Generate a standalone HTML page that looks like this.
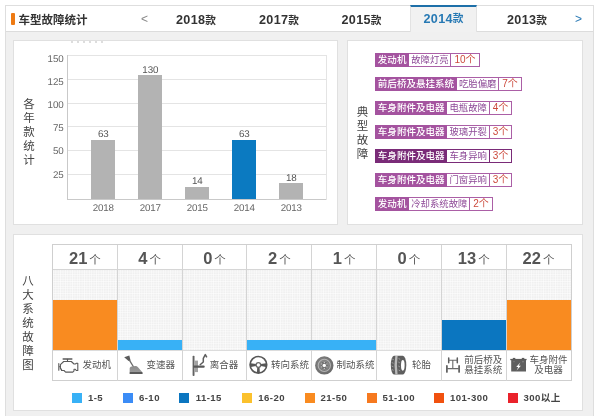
<!DOCTYPE html>
<html lang="zh-CN">
<head>
<meta charset="utf-8">
<title>车型故障统计</title>
<style>
html,body{margin:0;padding:0;}
body{width:600px;height:416px;overflow:hidden;background:#fff;position:relative;font-family:"Liberation Sans", "Noto Sans CJK SC", sans-serif;color:#333;}
div,span{box-sizing:border-box;}
.abs{position:absolute;}
.wrap{position:absolute;left:4.5px;top:5px;width:589.5px;height:430px;background:#f0f0f0;border:1px solid #dedede;}
.hdr{position:absolute;left:5.5px;top:6px;width:587.5px;height:26.3px;background:#fff;border-bottom:1px solid #dcdcdc;}
.obar{position:absolute;left:11px;top:13px;width:3.5px;height:12px;background:#ee7a12;border-radius:1px;}
.title{position:absolute;left:18.5px;top:10.5px;height:18px;line-height:18px;font-size:11.5px;font-weight:bold;color:#333;white-space:nowrap;letter-spacing:0;}
.tab i{font-style:normal;font-size:10.7px;letter-spacing:0;position:relative;top:-.4px;}
.tab{letter-spacing:.3px;position:absolute;top:8.1px;height:25px;width:83px;text-align:center;line-height:25px;font-size:12.6px;font-weight:bold;color:#333;white-space:nowrap;}
.tab.on{top:4.7px;height:27.6px;line-height:25.8px;width:67.5px;background:#f1f1f1;border-top:2.6px solid #1d6fa8;border-left:1px solid #e2e2e2;border-right:1px solid #e2e2e2;color:#2779b4;}
.arr{position:absolute;top:10px;height:18px;line-height:18px;font-size:12px;color:#888;}
.panel{position:absolute;background:#fff;border:1px solid #e0e0e0;}
.vt{position:absolute;width:14px;text-align:center;font-size:11.5px;line-height:14px;color:#444;}
.gl{position:absolute;left:67.5px;width:258.5px;height:1px;background:#e4e4e4;}
.yl{position:absolute;left:29.5px;width:34px;text-align:right;font-size:9.8px;letter-spacing:-.15px;text-rendering:geometricPrecision;margin-top:1.7px;line-height:12px;color:#666;}
.bar{position:absolute;width:23.7px;background:#b3b3b3;}
.bv{position:absolute;width:40px;text-align:center;font-size:9.8px;letter-spacing:-.15px;text-rendering:geometricPrecision;margin-top:1.7px;line-height:12px;color:#555;}
.xl{position:absolute;width:40px;text-align:center;font-size:9.8px;letter-spacing:-.15px;text-rendering:geometricPrecision;margin-top:1.7px;line-height:12px;color:#666;top:201px;}
.tag{position:absolute;left:375.3px;height:13.5px;display:flex;white-space:nowrap;font-size:9.4px;line-height:11.5px;border:1px solid #ab5fa6;background:#fff;}
.tag span{display:block;height:11.5px;}
.tag .s{background:#a4539f;color:#fff;padding:0 2.5px;margin:-1px 0 -1px -1px;height:13.5px;line-height:13.5px;font-size:9.55px;font-weight:500;}
.tag .n{color:#8e4a97;padding:0 1.6px 0 2.3px;border-right:1px solid #ab5fa6;}
.tag .c{color:#cc4a3c;padding:0 3.1px;font-size:10px;}
.tag.dk{border-color:#7a2b78;}
.tag.dk .s{background:#7a2b78;}
.tag.dk .n{border-right-color:#7a2b78;}
.tbl{position:absolute;left:52.2px;top:244.3px;width:519.6px;height:136.6px;border:1px solid #cfcfcf;background:#fff;}
.dots{position:absolute;left:53px;top:269.5px;width:517.8px;height:80.5px;background-color:#f0f0f0;
 background-image:linear-gradient(90deg,rgba(255,255,255,.55) 1px,transparent 1px),linear-gradient(0deg,rgba(255,255,255,.55) 1px,transparent 1px);background-size:2.4px 2.4px;}
.hl{position:absolute;left:53px;width:517.5px;height:1px;background:#d6d6d6;}
.cl{position:absolute;top:245px;width:1px;height:135.5px;background:#d4d4d4;}
.cnt{position:absolute;top:247px;width:64.8px;height:22px;line-height:22px;text-align:center;color:#555;white-space:nowrap;}
.cnt b{font-size:16.5px;font-weight:bold;vertical-align:baseline;}
.cnt i{font-style:normal;font-size:11.5px;margin-left:2px;}
.sb{position:absolute;}
.lab{position:absolute;font-size:9.5px;line-height:10px;color:#555;white-space:nowrap;text-align:center;}
.lsq{position:absolute;top:392.5px;width:10px;height:10px;}
.ltx{position:absolute;top:391.5px;height:12px;line-height:12px;font-size:9.6px;font-weight:bold;color:#444;white-space:nowrap;letter-spacing:.42px;}
svg{position:absolute;overflow:visible;}
</style>
</head>
<body>
<div class="wrap"></div>
<div class="hdr"></div>
<div class="obar"></div>
<div class="title">车型故障统计</div>
<div class="arr" style="left:141px;">&lt;</div>

<div class="tab" style="left:154.50px;">2018<i>款</i></div>
<div class="tab" style="left:237.50px;">2017<i>款</i></div>
<div class="tab" style="left:320.00px;">2015<i>款</i></div>
<div class="tab on" style="left:409.75px;">2014<i>款</i></div>
<div class="tab" style="left:485.50px;">2013<i>款</i></div>
<div class="arr" style="left:575px;color:#2a7ab5;">&gt;</div>
<div class="panel" style="left:12.5px;top:39.5px;width:325px;height:185.5px;"></div>
<div class="abs" style="left:71px;top:40.5px;width:36px;height:2px;background:repeating-linear-gradient(90deg,#cfcfcf 0 2px,transparent 2px 6px);opacity:.7"></div>
<div class="vt" style="left:22px;top:97.0px;">各</div>
<div class="vt" style="left:22px;top:111.0px;">年</div>
<div class="vt" style="left:22px;top:125.0px;">款</div>
<div class="vt" style="left:22px;top:139.0px;">统</div>
<div class="vt" style="left:22px;top:153.0px;">计</div>
<div class="gl" style="top:198.70px;background:#c9c9c9;"></div>
<div class="gl" style="top:174.00px;background:#e4e4e4;"></div>
<div class="yl" style="top:167.85px;">25</div>
<div class="gl" style="top:150.20px;background:#e4e4e4;"></div>
<div class="yl" style="top:144.70px;">50</div>
<div class="gl" style="top:126.40px;background:#e4e4e4;"></div>
<div class="yl" style="top:121.55px;">75</div>
<div class="gl" style="top:102.60px;background:#e4e4e4;"></div>
<div class="yl" style="top:98.40px;">100</div>
<div class="gl" style="top:78.80px;background:#e4e4e4;"></div>
<div class="yl" style="top:75.25px;">125</div>
<div class="gl" style="top:55.00px;background:#e4e4e4;"></div>
<div class="yl" style="top:52.10px;">150</div>
<div class="abs" style="left:67px;top:55.00px;width:1px;height:144.70px;background:#c9c9c9;"></div>
<div class="abs" style="left:325.5px;top:55.00px;width:1px;height:144.70px;background:#e4e4e4;"></div>
<div class="bar" style="left:91.30px;top:139.50px;height:59.69px;background:#b3b3b3;"></div>
<div class="bv" style="left:83.30px;top:127.50px;">63</div>
<div class="xl" style="left:83.30px;">2018</div>
<div class="bar" style="left:138.30px;top:74.85px;height:124.35px;background:#b3b3b3;"></div>
<div class="bv" style="left:130.30px;top:62.85px;">130</div>
<div class="xl" style="left:130.30px;">2017</div>
<div class="bar" style="left:185.30px;top:186.79px;height:12.41px;background:#b3b3b3;"></div>
<div class="bv" style="left:177.30px;top:174.79px;">14</div>
<div class="xl" style="left:177.30px;">2015</div>
<div class="bar" style="left:232.30px;top:139.50px;height:59.69px;background:#0b7ac1;"></div>
<div class="bv" style="left:224.30px;top:127.50px;">63</div>
<div class="xl" style="left:224.30px;">2014</div>
<div class="bar" style="left:279.30px;top:182.93px;height:16.27px;background:#b3b3b3;"></div>
<div class="bv" style="left:271.30px;top:170.93px;">18</div>
<div class="xl" style="left:271.30px;">2013</div>
<div class="panel" style="left:347px;top:39.5px;width:235.9px;height:185.3px;"></div>
<div class="vt" style="left:355.5px;top:104.6px;">典</div>
<div class="vt" style="left:355.5px;top:118.6px;">型</div>
<div class="vt" style="left:355.5px;top:132.6px;">故</div>
<div class="vt" style="left:355.5px;top:146.6px;">障</div>
<div class="tag" style="top:53.30px;"><span class="s">发动机</span><span class="n">故障灯亮</span><span class="c">10个</span></div>
<div class="tag" style="top:77.30px;"><span class="s">前后桥及悬挂系统</span><span class="n">吃胎偏磨</span><span class="c">7个</span></div>
<div class="tag" style="top:101.30px;"><span class="s">车身附件及电器</span><span class="n">电瓶故障</span><span class="c">4个</span></div>
<div class="tag" style="top:125.30px;"><span class="s">车身附件及电器</span><span class="n">玻璃开裂</span><span class="c">3个</span></div>
<div class="tag dk" style="top:149.30px;"><span class="s">车身附件及电器</span><span class="n">车身异响</span><span class="c">3个</span></div>
<div class="tag" style="top:173.30px;"><span class="s">车身附件及电器</span><span class="n">门窗异响</span><span class="c">3个</span></div>
<div class="tag" style="top:197.30px;"><span class="s">发动机</span><span class="n">冷却系统故障</span><span class="c">2个</span></div>
<div class="panel" style="left:12.5px;top:234.2px;width:570.6px;height:176.5px;"></div>
<div class="vt" style="left:21px;top:273.5px;">八</div>
<div class="vt" style="left:21px;top:287.5px;">大</div>
<div class="vt" style="left:21px;top:301.5px;">系</div>
<div class="vt" style="left:21px;top:315.5px;">统</div>
<div class="vt" style="left:21px;top:329.5px;">故</div>
<div class="vt" style="left:21px;top:343.5px;">障</div>
<div class="vt" style="left:21px;top:357.5px;">图</div>
<div class="tbl"></div>
<div class="dots"></div>
<div class="hl" style="top:269px;"></div>
<div class="hl" style="top:350px;background:#dcdcdc;"></div>
<div class="cl" style="left:116.80px;"></div>
<div class="cl" style="left:181.60px;"></div>
<div class="cl" style="left:246.40px;"></div>
<div class="cl" style="left:311.20px;"></div>
<div class="cl" style="left:376.00px;"></div>
<div class="cl" style="left:440.80px;"></div>
<div class="cl" style="left:505.60px;"></div>
<div class="cnt" style="left:52.50px;"><b>21</b><i>个</i></div>
<div class="sb" style="left:53.00px;top:300.00px;width:64.30px;height:50.20px;background:#f98b20;"></div>
<div class="cnt" style="left:117.30px;"><b>4</b><i>个</i></div>
<div class="sb" style="left:117.80px;top:340.00px;width:64.30px;height:10.20px;background:#38b1f6;"></div>
<div class="cnt" style="left:182.10px;"><b>0</b><i>个</i></div>
<div class="cnt" style="left:246.90px;"><b>2</b><i>个</i></div>
<div class="sb" style="left:247.40px;top:340.00px;width:64.30px;height:10.20px;background:#38b1f6;"></div>
<div class="cnt" style="left:311.70px;"><b>1</b><i>个</i></div>
<div class="sb" style="left:312.20px;top:340.00px;width:64.30px;height:10.20px;background:#38b1f6;"></div>
<div class="cnt" style="left:376.50px;"><b>0</b><i>个</i></div>
<div class="cnt" style="left:441.30px;"><b>13</b><i>个</i></div>
<div class="sb" style="left:441.80px;top:320.00px;width:64.30px;height:30.20px;background:#0b76c0;"></div>
<div class="cnt" style="left:506.10px;"><b>22</b><i>个</i></div>
<div class="sb" style="left:506.60px;top:300.00px;width:64.30px;height:50.20px;background:#f98b20;"></div>
<svg width="600" height="416" viewBox="0 0 600 416" style="left:0;top:0;pointer-events:none;">
<defs>
<linearGradient id="gboot" x1="0" y1="0" x2="0" y2="1"><stop offset="0" stop-color="#8a8a8a"/><stop offset=".8" stop-color="#9a9a9a"/><stop offset=".81" stop-color="#5a5a5a"/><stop offset="1" stop-color="#5a5a5a"/></linearGradient>
<radialGradient id="gdisc" cx=".42" cy=".4" r=".6"><stop offset="0" stop-color="#8c8c8c"/><stop offset="1" stop-color="#6a6a6a"/></radialGradient>
</defs>
<!-- engine -->
<g fill="none" stroke="#5a5a5a" stroke-width="1.1" stroke-linejoin="round" stroke-linecap="round">
<path d="M63.2,358.9 H71.8" stroke-width="1.5"/>
<path d="M67.5,359.3 V361.3"/>
<path d="M58.8,363.6 V370.2 M58.8,366.8 H60.4"/>
<path d="M60.4,364.6 L63.7,361.5 H71.3 L74,364 H75.3 L76.5,363.3 H77.8 V370.5 H76.3 L75.3,369.3 H74 V370.9 L72.8,372.1 H65.6 L64,370.5 H61.5 V369 H60.4 Z"/>
</g>
<!-- gear shift -->
<g>
<path d="M124.2,357.2 L129.3,355.6 L130.6,360.6 L128.6,360.9 Z" fill="#5c5c5c"/>
<path d="M129.4,360.2 L133.6,367" stroke="#6a6a6a" stroke-width="1.3" fill="none"/>
<path d="M129.7,368 Q130,366.6 133,366.3 L136,366 Q137.2,366.2 138.2,367.4 L142.6,372.4 V374 H129.6 Z" fill="url(#gboot)"/>
</g>
<!-- clutch -->
<g>
<rect x="192.6" y="355.8" width="1.9" height="20.3" rx=".8" fill="#626262"/>
<rect x="194.4" y="360.6" width="3.6" height="11.5" fill="#a2a2a2"/>
<path d="M194.4,366.7 H203.6" stroke="#585858" stroke-width="2.3" fill="none" stroke-linecap="round"/>
<path d="M199.8,365 L203.3,362 V358.4 L205.3,354.6 L206.8,357.4" stroke="#5e5e5e" stroke-width="1.5" fill="none" stroke-linejoin="round"/>
</g>
<!-- steering wheel -->
<g>
<circle cx="258.4" cy="364.8" r="8.3" fill="none" stroke="#575757" stroke-width="1.7"/>
<path d="M250.6,363.2 L256,364 V366 L250.8,366.9 Z M266.2,363.2 L260.8,364 V366 L266,366.9 Z M257.3,366.5 H259.5 L259.9,373 H256.9 Z" fill="#575757"/>
<circle cx="258.4" cy="365" r="2.3" fill="#fff" stroke="#6b6b6b" stroke-width="1.3"/>
</g>
<!-- brake disc -->
<g>
<circle cx="324.3" cy="365.4" r="9.2" fill="url(#gdisc)"/>
<circle cx="324.3" cy="365.4" r="6.1" fill="none" stroke="#b4b4b4" stroke-width="1.1"/>
<circle cx="324.3" cy="365.4" r="4.1" fill="#6f6f6f" stroke="#999" stroke-width=".6"/>
<circle cx="324.3" cy="365.4" r="1.7" fill="#fff"/>
<g fill="#d8d8d8"><circle cx="324.3" cy="362.4" r=".55"/><circle cx="326.9" cy="363.9" r=".55"/><circle cx="326.9" cy="366.9" r=".55"/><circle cx="324.3" cy="368.4" r=".55"/><circle cx="321.7" cy="366.9" r=".55"/><circle cx="321.7" cy="363.9" r=".55"/></g>
</g>
<!-- tyre -->
<g>
<path d="M394,355.7 H402.8 A3.5,9.4 0 0 1 402.8,374.5 H394 A3.2,9.4 0 0 1 394,355.7 Z" fill="#5e5e5e"/>
<path d="M395.3,356 H397.6 Q396.2,365 397.6,374.2 H395.3 Q393.6,365 395.3,356 Z" fill="#b9b9b9"/>
<path d="M392.2,359 l1.6,.8 M391.7,362.5 l1.8,.8 M391.6,366 l1.8,.8 M391.9,369.5 l1.7,.8 M398.6,358.5 l1.6,.9 M398.3,362 l1.6,.9 M398.3,366 l1.6,.9 M398.6,370 l1.6,.9" stroke="#c4c4c4" stroke-width=".6"/>
<ellipse cx="402.8" cy="365.3" rx="1.8" ry="5.4" fill="#fff"/>
</g>
<!-- axle -->
<g fill="none" stroke="#5e5e5e" stroke-linecap="round">
<path d="M448.7,357.9 V362.8 M457.3,357.9 V362.8" stroke-width="1.5"/>
<path d="M446.9,365.8 V372 M459.1,365.8 V372" stroke-width="1.7"/>
<path d="M449,360.2 H457 M452.8,360.2 V368.6 M447.5,368.6 H458.5" stroke-width="1.1" stroke="#6a6a6a"/>
</g>
<!-- battery -->
<g>
<rect x="512.8" y="357.9" width="2.5" height="1.6" fill="#5a5a5a"/>
<rect x="521.8" y="357.9" width="2.5" height="1.6" fill="#5a5a5a"/>
<rect x="510.3" y="358.9" width="16.3" height="1.3" fill="#5a5a5a"/>
<rect x="511.2" y="359.8" width="14.8" height="11.7" fill="#5f5f5f"/>
<path d="M520.3,362.4 L516.2,366.9 H518.3 L516.6,370.6 L520.9,365.8 H518.7 Z" fill="#fff"/>
<path d="M513.2,361.7 h1.6 M522.2,361.7 h1.6 M523,360.9 v1.6" stroke="#9a9a9a" stroke-width=".5"/>
</g>
</svg>

<div class="lab" style="left:77.50px;top:360.00px;width:38.50px;">发动机</div>
<div class="lab" style="left:141.80px;top:360.00px;width:38.00px;">变速器</div>
<div class="lab" style="left:204.90px;top:360.00px;width:38.00px;">离合器</div>
<div class="lab" style="left:266.00px;top:360.00px;width:48.00px;">转向系统</div>
<div class="lab" style="left:331.50px;top:360.00px;width:48.00px;">制动系统</div>
<div class="lab" style="left:406.90px;top:360.00px;width:29.10px;">轮胎</div>
<div class="lab" style="left:459.2px;top:354.8px;width:48px;">前后桥及<br>悬挂系统</div>
<div class="lab" style="left:524.5px;top:354.8px;width:48px;">车身附件<br>及电器</div>
<div class="lsq" style="left:72.00px;background:#38b1f6;"></div>
<div class="ltx" style="left:88.00px;">1-5</div>
<div class="lsq" style="left:122.70px;background:#3b8cf6;"></div>
<div class="ltx" style="left:139.00px;">6-10</div>
<div class="lsq" style="left:179.00px;background:#0b76c0;"></div>
<div class="ltx" style="left:195.70px;">11-15</div>
<div class="lsq" style="left:241.70px;background:#fbc12d;"></div>
<div class="ltx" style="left:258.30px;">16-20</div>
<div class="lsq" style="left:304.70px;background:#f98b20;"></div>
<div class="ltx" style="left:320.50px;">21-50</div>
<div class="lsq" style="left:366.50px;background:#f6791f;"></div>
<div class="ltx" style="left:382.50px;">51-100</div>
<div class="lsq" style="left:434.00px;background:#f1510f;"></div>
<div class="ltx" style="left:450.00px;">101-300</div>
<div class="lsq" style="left:507.50px;background:#ea222b;"></div>
<div class="ltx" style="left:523.50px;">300以上</div>
</body>
</html>
